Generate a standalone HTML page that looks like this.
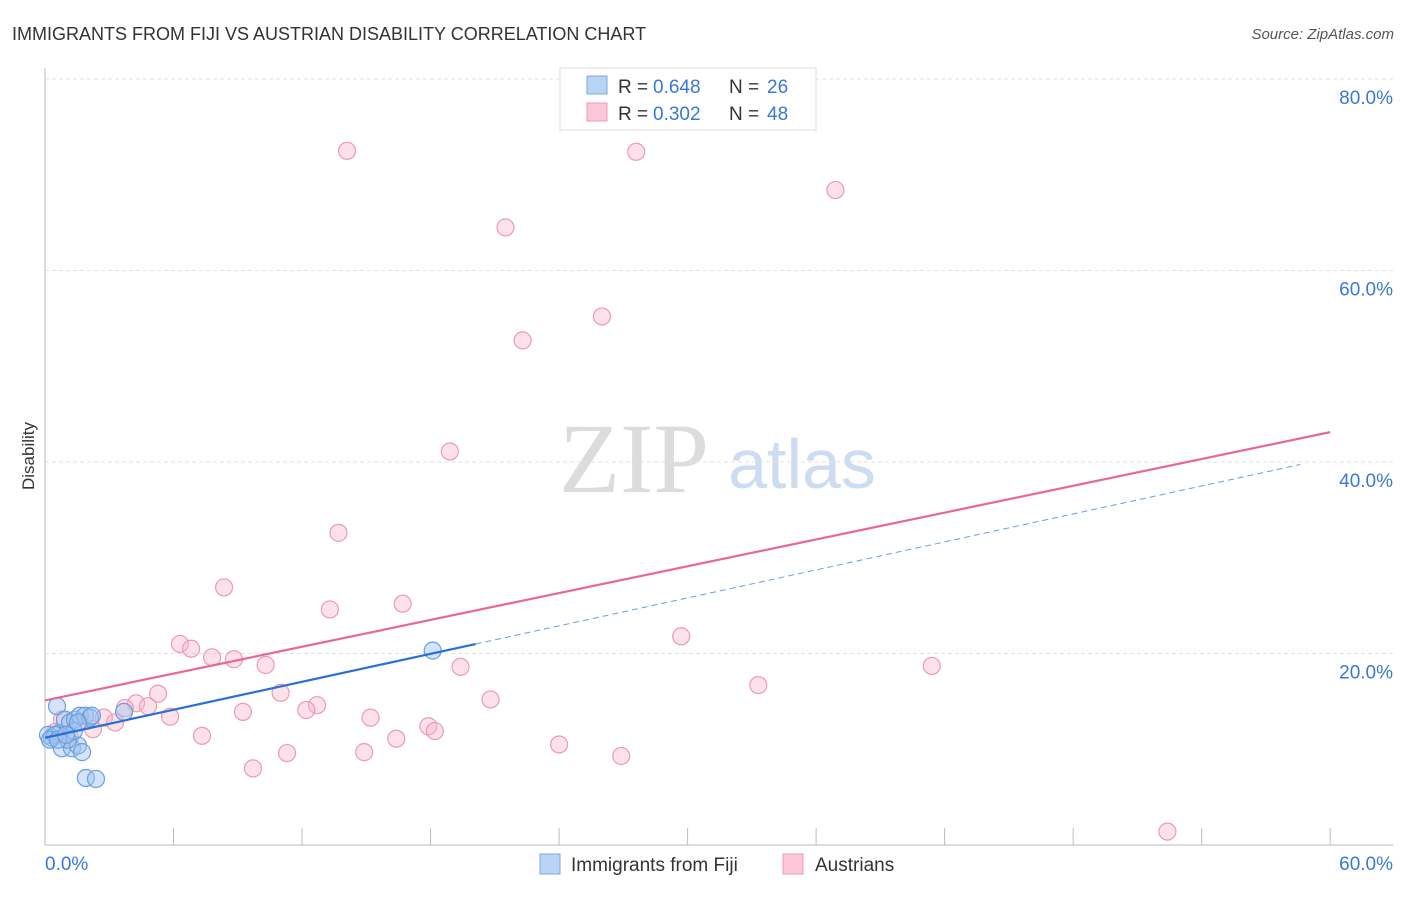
<!DOCTYPE html>
<html><head><meta charset="utf-8"><style>
body{margin:0;background:#fff;font-family:"Liberation Sans",sans-serif}
</style></head><body>
<svg id="c" width="1406" height="892" font-family="Liberation Sans, sans-serif">
<text x="12" y="40" font-size="18" fill="#333">IMMIGRANTS FROM FIJI VS AUSTRIAN DISABILITY CORRELATION CHART</text>
<text x="1394" y="39" font-size="15" fill="#555" text-anchor="end" font-style="italic">Source: ZipAtlas.com</text>
<text x="634" y="492" font-size="100" fill="#dcdcdc" style="font-family:'Liberation Serif',serif" text-anchor="middle">ZIP</text>
<text x="802" y="488" font-size="70" fill="#cddcf0" text-anchor="middle">atlas</text>
<text transform="translate(34,456) rotate(-90)" font-size="17" fill="#333" text-anchor="middle">Disability</text>
<g id="grid"></g><g id="marks"></g>
<g>
<rect x="560" y="68" width="256" height="62" fill="#fff" stroke="#ddd"/>
<rect x="587" y="76" width="20" height="18" fill="#b8d4f5" stroke="#7aa8e0"/>
<rect x="587" y="103" width="20" height="18" fill="#fcc8d8" stroke="#ec9ab5"/>
<text x="618" y="93" font-size="19" fill="#333">R =</text>
<text x="653" y="93" font-size="19" fill="#3a78d6">0.648</text>
<text x="729" y="93" font-size="19" fill="#333">N =</text>
<text x="767" y="93" font-size="19" fill="#3a78d6">26</text>
<text x="618" y="120" font-size="19" fill="#333">R =</text>
<text x="653" y="120" font-size="19" fill="#3a78d6">0.302</text>
<text x="729" y="120" font-size="19" fill="#333">N =</text>
<text x="767" y="120" font-size="19" fill="#3a78d6">48</text>
</g>
<g>
<rect x="540" y="854" width="20" height="20" fill="#b8d4f5" stroke="#7aa8e0"/>
<text x="571" y="871" font-size="19" fill="#333">Immigrants from Fiji</text>
<rect x="783" y="854" width="20" height="20" fill="#fcc8d8" stroke="#ec9ab5"/>
<text x="815" y="871" font-size="19" fill="#333">Austrians</text>
</g>
</svg>
<script>
const xTicks=[0,6,12,18,24,30,36,42,48,54,60];
const yTicks=[20,40,60,80];
const fijiX=[0.56,0.14,0.33,0.70,0.93,1.17,1.40,1.63,1.87,2.10,0.79,1.26,1.54,1.73,1.07,0.47,1.91,2.38,3.69,18.1,0.23,0.61,1.35,0.98,2.19,1.54];
const fijiY=[14.5,11.5,11.2,11.7,13.1,12.8,13.1,13.5,13.5,13.3,10.1,10.1,10.4,9.7,11.0,11.5,7.0,6.9,13.9,20.3,11.0,11.0,11.9,11.5,13.5,12.8];
const ausX=[14.1,27.6,36.9,21.5,26.0,22.3,18.9,13.7,8.36,16.7,13.3,29.7,6.30,6.82,7.80,8.82,10.3,19.4,41.4,33.3,5.28,11.0,20.8,4.25,4.81,12.7,12.2,9.24,3.73,5.84,2.75,3.27,15.2,17.9,18.2,2.24,7.33,16.4,24.0,14.9,11.3,26.9,9.71,52.4,1.63,0.79,0.47,1.17];
const ausY=[72.5,72.4,68.4,64.5,55.2,52.7,41.1,32.6,26.9,25.2,24.6,21.8,21.0,20.5,19.6,19.4,18.8,18.6,18.7,16.7,15.8,15.9,15.2,14.8,14.5,14.6,14.1,13.9,14.3,13.4,13.3,12.8,13.3,12.4,11.9,12.1,11.4,11.1,10.5,9.7,9.6,9.3,8.0,1.4,12.8,13.1,11.8,11.2];
const fijiTrend=[11.2,0.487];
const ausTrend=[15.1,0.467];
const X=v=>45+v*21.42, Y=v=>845-v*9.575;
const NS='http://www.w3.org/2000/svg';
function mk(t,a,p){const e=document.createElementNS(NS,t);for(const k in a)e.setAttribute(k,a[k]);p.appendChild(e);return e;}
const g=document.getElementById('grid'), m=document.getElementById('marks');
let e=mk('line',{x1:45,y1:68,x2:45,y2:845,stroke:'#bbb'},g);


e=mk('line',{x1:45,y1:845,x2:1393,y2:845,stroke:'#bbb'},g);


yTicks.forEach(v=>{
 e=mk('line',{x1:45,y1:Y(v),x2:1393,y2:Y(v),stroke:'#e2e2e2','stroke-dasharray':'4,3'},g);
 
 
 e=mk('text',{x:1393,y:Y(v)+25,'font-size':19,fill:'#3a78d6','text-anchor':'end'},g);e.textContent=v.toFixed(1)+'%';
 
 
});
xTicks.forEach(v=>{
 e=mk('line',{x1:X(v),y1:828,x2:X(v),y2:845,stroke:'#bbb'},g);
 
 
});
[[0,'start',45],[60,'end',1393]].forEach(([v,a,px])=>{
 e=mk('text',{x:px,y:870,'font-size':19,fill:'#3a78d6','text-anchor':a},g);e.textContent=v.toFixed(1)+'%';
 
 
});
ausX.forEach((x,i)=>{
 e=mk('circle',{cx:X(x),cy:Y(ausY[i]),r:8.5,fill:'rgba(248,180,200,0.4)',stroke:'#ec9ab5','stroke-width':1.2},m);
 
 
});
fijiX.forEach((x,i)=>{
 e=mk('circle',{cx:X(x),cy:Y(fijiY[i]),r:8.5,fill:'rgba(160,195,240,0.45)',stroke:'#6a9ee0','stroke-width':1.2},m);
 
 
});
const fx=Math.max(...fijiX)+2;
e=mk('line',{x1:X(fx),y1:Y(fijiTrend[0]+fijiTrend[1]*fx),x2:X(58.6),y2:Y(fijiTrend[0]+fijiTrend[1]*58.6),stroke:'#6a9ee0','stroke-dasharray':'6,4','stroke-width':1},m);


e=mk('line',{x1:X(0),y1:Y(fijiTrend[0]),x2:X(fx),y2:Y(fijiTrend[0]+fijiTrend[1]*fx),stroke:'#2a6fd6','stroke-width':2.2},m);


e=mk('line',{x1:X(0),y1:Y(ausTrend[0]),x2:X(60),y2:Y(ausTrend[0]+ausTrend[1]*60),stroke:'#e8679a','stroke-width':2.2},m);


</script>
</body></html>
